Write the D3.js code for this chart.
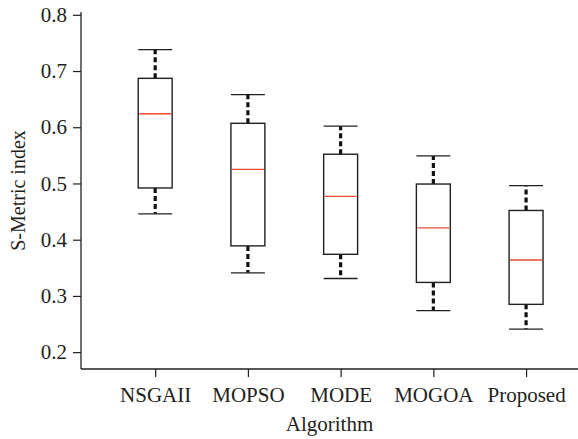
<!DOCTYPE html>
<html>
<head>
  <meta charset='utf-8'>
  <script src="https://d3js.org/d3.v7.min.js"></script>
  <style>
    body { margin: 0; background: #fff; }
    text { font-family: "Liberation Serif", "DejaVu Serif", serif; fill: #231f20; }
  </style>
</head>
<body>
  <div id="container"></div>
  <script type="text/javascript">
    // box plot values
    var algorithms = ["NSGAII", "MOPSO", "MODE", "MOGOA", "Proposed"];
    var whisker_low = [0.446, 0.341, 0.331, 0.274, 0.241];
    var q1 = [0.492, 0.389, 0.374, 0.324, 0.285];
    var medians = [0.624, 0.525, 0.477, 0.421, 0.364];
    var q3 = [0.687, 0.607, 0.552, 0.499, 0.452];
    var whisker_high = [0.738, 0.658, 0.602, 0.549, 0.496];
    var y_ticks = [0.2, 0.3, 0.4, 0.5, 0.6, 0.7, 0.8];

    var width = 578, height = 439;
    var svg = d3.select("#container").append("svg")
                .attr("width", width).attr("height", height);

    var x = d3.scaleLinear().domain([0.2, 5.56]).range([81, 578]);
    var y = d3.scaleLinear().domain([0.17, 0.805]).range([369, 12]);

    var data = algorithms.map(function(name, i) {
        return {name: name, pos: i + 1, lo: whisker_low[i], q1: q1[i],
                med: medians[i], q3: q3[i], hi: whisker_high[i]};
    });

    // axes
    var y_axis = d3.axisLeft(y).tickValues(y_ticks).tickSize(8).tickPadding(6)
                   .tickFormat(d3.format(".1f"));
    var gy = svg.append("g").attr("transform", "translate(81,0)").call(y_axis);

    var x_axis = d3.axisBottom(x).tickValues(d3.range(1, 6)).tickSize(8).tickPadding(10)
                   .tickFormat(function(d) { return algorithms[d - 1]; });
    var gx = svg.append("g").attr("transform", "translate(0,369)").call(x_axis);

    [gy, gx].forEach(function(g) {
        g.attr("font-family", null);
        g.select(".domain").attr("stroke", "#231f20").attr("stroke-width", 1.3);
        g.selectAll(".tick line").attr("stroke", "#231f20").attr("stroke-width", 1.2);
        g.selectAll("text").attr("font-size", 21).attr("fill", "#231f20");
    });
    // the y axis has no outer tick
    gy.select(".domain").attr("d", "M0," + y.range()[1] + "V" + y.range()[0]);
    gx.select(".domain").attr("d", "M" + x.range()[0] + ",0H" + x.range()[1]);

    // axis titles
    svg.append("text").attr("x", (x.range()[0] + x.range()[1]) / 2).attr("y", 431)
       .attr("text-anchor", "middle").attr("font-size", 21).text("Algorithm");
    svg.append("text")
       .attr("transform", "translate(25," + (y.range()[0] + y.range()[1]) / 2 + ") rotate(-90)")
       .attr("text-anchor", "middle").attr("font-size", 20).text("S-Metric index");

    // boxes
    var half = 0.183;
    var boxes = svg.selectAll(".box").data(data).enter().append("g").attr("class", "box");

    // dashed whiskers
    boxes.append("line")
         .attr("x1", function(d) { return x(d.pos); }).attr("x2", function(d) { return x(d.pos); })
         .attr("y1", function(d) { return y(d.q3); }).attr("y2", function(d) { return y(d.hi); })
         .attr("stroke", "#111").attr("stroke-width", 3.2).attr("stroke-dasharray", "5,3");
    boxes.append("line")
         .attr("x1", function(d) { return x(d.pos); }).attr("x2", function(d) { return x(d.pos); })
         .attr("y1", function(d) { return y(d.q1); }).attr("y2", function(d) { return y(d.lo); })
         .attr("stroke", "#111").attr("stroke-width", 3.2).attr("stroke-dasharray", "5,3");

    // caps
    ["hi", "lo"].forEach(function(k) {
        boxes.append("line")
             .attr("x1", function(d) { return x(d.pos - half); })
             .attr("x2", function(d) { return x(d.pos + half); })
             .attr("y1", function(d) { return y(d[k]); }).attr("y2", function(d) { return y(d[k]); })
             .attr("stroke", "#231f20").attr("stroke-width", 1.3);
    });

    boxes.append("rect")
         .attr("x", function(d) { return x(d.pos - half); })
         .attr("width", function(d) { return x(d.pos + half) - x(d.pos - half); })
         .attr("y", function(d) { return y(d.q3); })
         .attr("height", function(d) { return y(d.q1) - y(d.q3); })
         .attr("fill", "#fff").attr("stroke", "#231f20").attr("stroke-width", 1.4);

    boxes.append("line")
         .attr("x1", function(d) { return x(d.pos - half) + 1; })
         .attr("x2", function(d) { return x(d.pos + half) - 1; })
         .attr("y1", function(d) { return y(d.med); }).attr("y2", function(d) { return y(d.med); })
         .attr("stroke", "#e94b36").attr("stroke-width", 1.4);
  </script>
</body>
</html>
